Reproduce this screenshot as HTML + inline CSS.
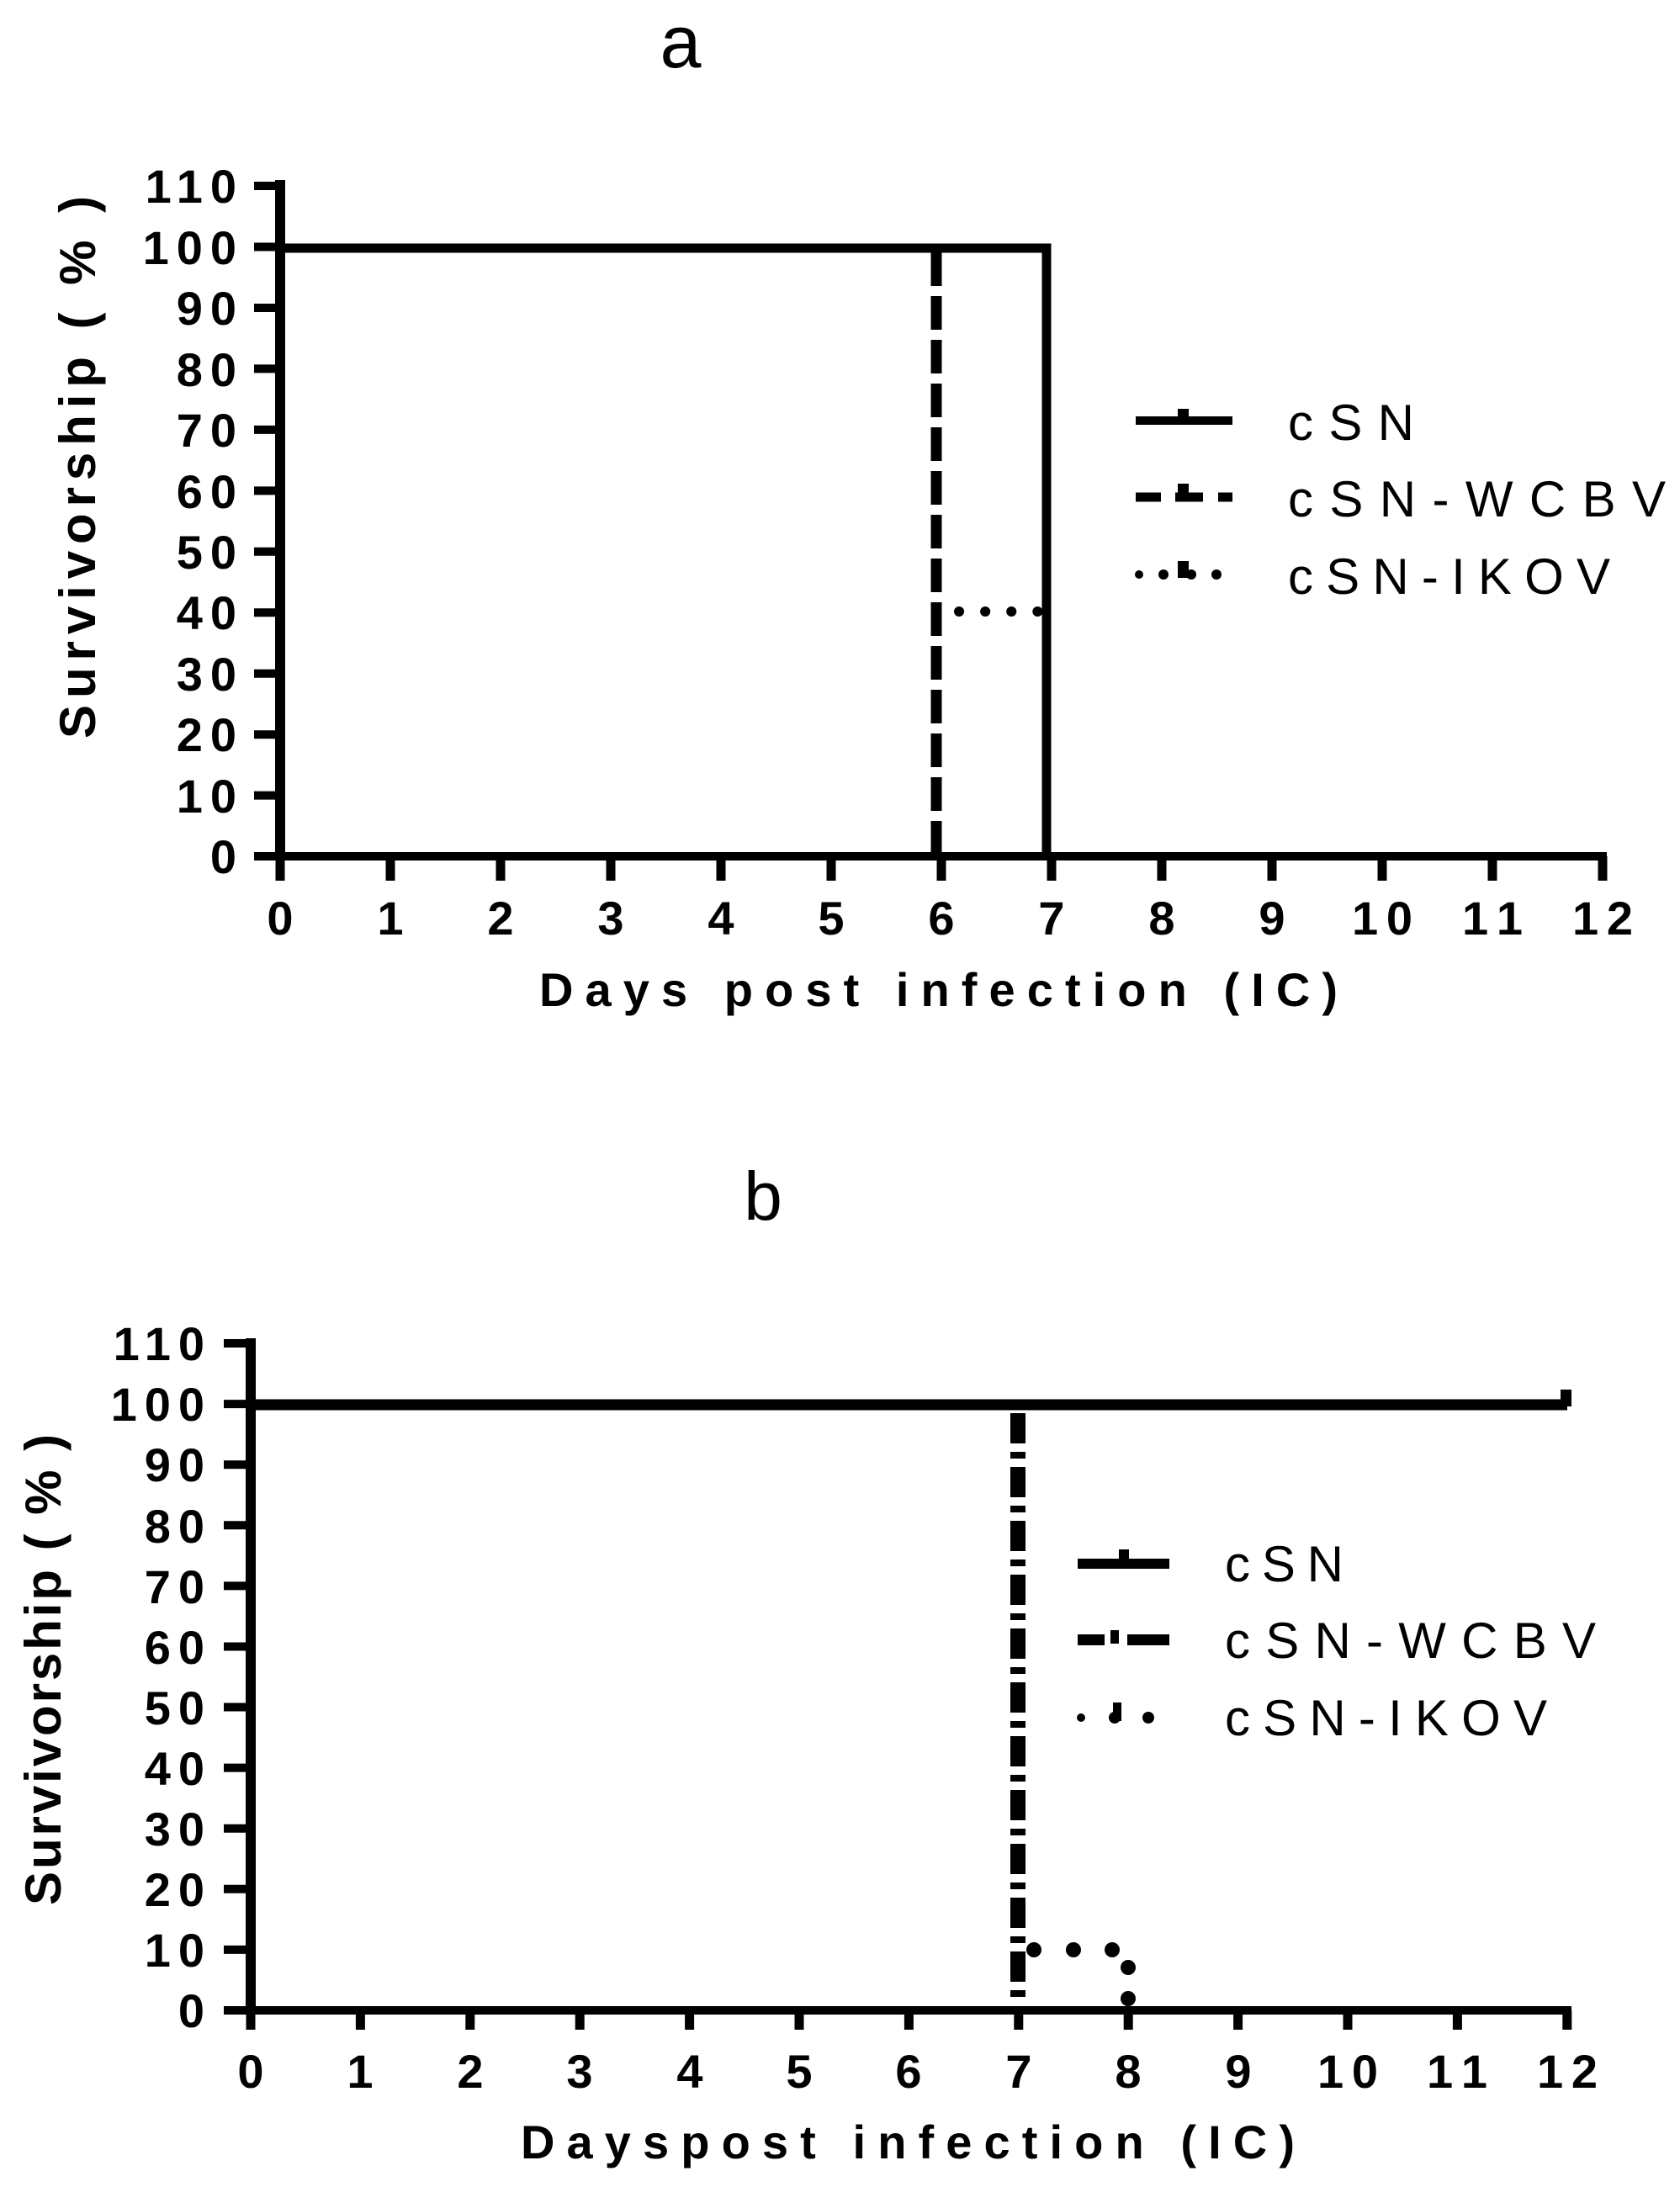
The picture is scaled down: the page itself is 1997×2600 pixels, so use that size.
<!DOCTYPE html>
<html><head><meta charset="utf-8"><style>
html,body{margin:0;padding:0;background:#fff;}
svg{display:block;}
text{font-family:"Liberation Sans",Arial,sans-serif;fill:#000;}
.tk{font-weight:bold;font-size:56px;}
</style></head><body>
<svg width="1997" height="2600" viewBox="0 0 1997 2600" xmlns="http://www.w3.org/2000/svg">
<rect width="1997" height="2600" fill="#fff"/>

<!-- ============ CHART A ============ -->
<text x="809" y="80" font-size="88" text-anchor="middle">a</text>
<g stroke="#000" fill="none">
  <line x1="333" y1="214" x2="333" y2="1023" stroke-width="12"/>
  <line x1="327" y1="1018" x2="1910" y2="1018" stroke-width="10"/>
</g>
<g stroke="#000" stroke-width="10">
  <line x1="302" y1="221" x2="333" y2="221"/>
  <line x1="302" y1="293.5" x2="333" y2="293.5"/>
  <line x1="302" y1="366" x2="333" y2="366"/>
  <line x1="302" y1="438.4" x2="333" y2="438.4"/>
  <line x1="302" y1="510.9" x2="333" y2="510.9"/>
  <line x1="302" y1="583.4" x2="333" y2="583.4"/>
  <line x1="302" y1="655.8" x2="333" y2="655.8"/>
  <line x1="302" y1="728.3" x2="333" y2="728.3"/>
  <line x1="302" y1="800.8" x2="333" y2="800.8"/>
  <line x1="302" y1="873.2" x2="333" y2="873.2"/>
  <line x1="302" y1="945.6" x2="333" y2="945.6"/>
  <line x1="302" y1="1018" x2="333" y2="1018"/>
</g>
<g class="tk" text-anchor="end" letter-spacing="9">
  <text x="290" y="241">110</text>
  <text x="290" y="314">100</text>
  <text x="290" y="386">90</text>
  <text x="290" y="459">80</text>
  <text x="290" y="531">70</text>
  <text x="290" y="604">60</text>
  <text x="290" y="676">50</text>
  <text x="290" y="748">40</text>
  <text x="290" y="821">30</text>
  <text x="290" y="893">20</text>
  <text x="290" y="966">10</text>
  <text x="290" y="1038">0</text>
</g>
<g stroke="#000" stroke-width="11">
  <line x1="333" y1="1018" x2="333" y2="1047"/>
  <line x1="464" y1="1018" x2="464" y2="1047"/>
  <line x1="595" y1="1018" x2="595" y2="1047"/>
  <line x1="726" y1="1018" x2="726" y2="1047"/>
  <line x1="857" y1="1018" x2="857" y2="1047"/>
  <line x1="988" y1="1018" x2="988" y2="1047"/>
  <line x1="1119" y1="1018" x2="1119" y2="1047"/>
  <line x1="1250" y1="1018" x2="1250" y2="1047"/>
  <line x1="1381" y1="1018" x2="1381" y2="1047"/>
  <line x1="1512" y1="1018" x2="1512" y2="1047"/>
  <line x1="1643" y1="1018" x2="1643" y2="1047"/>
  <line x1="1774" y1="1018" x2="1774" y2="1047"/>
  <line x1="1905" y1="1018" x2="1905" y2="1047"/>
</g>
<g class="tk" text-anchor="middle" font-size="58">
  <text x="333" y="1111">0</text>
  <text x="464" y="1111">1</text>
  <text x="595" y="1111">2</text>
  <text x="726" y="1111">3</text>
  <text x="857" y="1111">4</text>
  <text x="988" y="1111">5</text>
  <text x="1119" y="1111">6</text>
  <text x="1250" y="1111">7</text>
  <text x="1381" y="1111">8</text>
  <text x="1512" y="1111">9</text>
  <text x="1643" y="1111" textLength="72" lengthAdjust="spacing">10</text>
  <text x="1774" y="1111" textLength="72" lengthAdjust="spacing">11</text>
  <text x="1905" y="1111" textLength="72" lengthAdjust="spacing">12</text>
</g>
<text x="641" y="1196" font-size="56" font-weight="bold" textLength="949" lengthAdjust="spacing">Days post infection (IC)</text>
<text transform="translate(113,878) rotate(-90)" font-size="60" font-weight="bold" textLength="645" lengthAdjust="spacing">Survivorship ( % )</text>
<polyline points="333,295 1244,295 1244,1018" fill="none" stroke="#000" stroke-width="11"/>
<line x1="1113" y1="300" x2="1113" y2="1018" stroke="#000" stroke-width="13" stroke-dasharray="40 12"/>
<line x1="1140" y1="727" x2="1236" y2="727" stroke="#000" stroke-width="12" stroke-linecap="round" stroke-dasharray="0.1 31"/>
<line x1="1350" y1="500" x2="1465" y2="500" stroke="#000" stroke-width="10"/>
<rect x="1400" y="486" width="13" height="12" fill="#000"/>
<line x1="1350" y1="591" x2="1465" y2="591" stroke="#000" stroke-width="11" stroke-dasharray="30 17 33 18"/>
<rect x="1400" y="575" width="13" height="12" fill="#000"/>
<g fill="#000">
  <circle cx="1354" cy="683" r="5"/><circle cx="1383" cy="683" r="6"/>
  <rect x="1400" y="667" width="13" height="20"/><circle cx="1416" cy="683" r="6"/>
  <circle cx="1446" cy="683" r="6"/>
</g>
<g font-size="60">
  <text x="1531" y="523" textLength="150" lengthAdjust="spacing">cSN</text>
  <text x="1531" y="614" textLength="449" lengthAdjust="spacing">cSN-WCBV</text>
  <text x="1531" y="706" textLength="383" lengthAdjust="spacing">cSN-IKOV</text>
</g>

<!-- ============ CHART B ============ -->
<text x="907" y="1450" font-size="82" text-anchor="middle">b</text>
<g stroke="#000" fill="none">
  <line x1="298" y1="1591" x2="298" y2="2395" stroke-width="12"/>
  <line x1="292" y1="2390" x2="1868" y2="2390" stroke-width="10"/>
</g>
<g stroke="#000" stroke-width="10">
  <line x1="266" y1="1597" x2="298" y2="1597"/>
  <line x1="266" y1="1669.1" x2="298" y2="1669.1"/>
  <line x1="266" y1="1741.2" x2="298" y2="1741.2"/>
  <line x1="266" y1="1813.3" x2="298" y2="1813.3"/>
  <line x1="266" y1="1885.4" x2="298" y2="1885.4"/>
  <line x1="266" y1="1957.5" x2="298" y2="1957.5"/>
  <line x1="266" y1="2029.5" x2="298" y2="2029.5"/>
  <line x1="266" y1="2101.6" x2="298" y2="2101.6"/>
  <line x1="266" y1="2173.7" x2="298" y2="2173.7"/>
  <line x1="266" y1="2245.8" x2="298" y2="2245.8"/>
  <line x1="266" y1="2317.9" x2="298" y2="2317.9"/>
  <line x1="266" y1="2390" x2="298" y2="2390"/>
</g>
<g class="tk" text-anchor="end" letter-spacing="9">
  <text x="252" y="1617">110</text>
  <text x="252" y="1689">100</text>
  <text x="252" y="1761">90</text>
  <text x="252" y="1834">80</text>
  <text x="252" y="1906">70</text>
  <text x="252" y="1978">60</text>
  <text x="252" y="2050">50</text>
  <text x="252" y="2122">40</text>
  <text x="252" y="2194">30</text>
  <text x="252" y="2266">20</text>
  <text x="252" y="2338">10</text>
  <text x="252" y="2410">0</text>
</g>
<g stroke="#000" stroke-width="11">
  <line x1="298" y1="2390" x2="298" y2="2413"/>
  <line x1="428.4" y1="2390" x2="428.4" y2="2413"/>
  <line x1="558.8" y1="2390" x2="558.8" y2="2413"/>
  <line x1="689.2" y1="2390" x2="689.2" y2="2413"/>
  <line x1="819.6" y1="2390" x2="819.6" y2="2413"/>
  <line x1="950" y1="2390" x2="950" y2="2413"/>
  <line x1="1080.4" y1="2390" x2="1080.4" y2="2413"/>
  <line x1="1210.8" y1="2390" x2="1210.8" y2="2413"/>
  <line x1="1341.2" y1="2390" x2="1341.2" y2="2413"/>
  <line x1="1471.6" y1="2390" x2="1471.6" y2="2413"/>
  <line x1="1602" y1="2390" x2="1602" y2="2413"/>
  <line x1="1732.4" y1="2390" x2="1732.4" y2="2413"/>
  <line x1="1862.8" y1="2390" x2="1862.8" y2="2413"/>
</g>
<g class="tk" text-anchor="middle" font-size="58">
  <text x="298" y="2482">0</text>
  <text x="428" y="2482">1</text>
  <text x="559" y="2482">2</text>
  <text x="689" y="2482">3</text>
  <text x="820" y="2482">4</text>
  <text x="950" y="2482">5</text>
  <text x="1080" y="2482">6</text>
  <text x="1211" y="2482">7</text>
  <text x="1341" y="2482">8</text>
  <text x="1472" y="2482">9</text>
  <text x="1602" y="2482" textLength="72" lengthAdjust="spacing">10</text>
  <text x="1732" y="2482" textLength="72" lengthAdjust="spacing">11</text>
  <text x="1863" y="2482" textLength="72" lengthAdjust="spacing">12</text>
</g>
<text x="619" y="2566" font-size="56" font-weight="bold" textLength="920" lengthAdjust="spacing">Dayspost infection (IC)</text>
<text transform="translate(72,2265) rotate(-90)" font-size="60" font-weight="bold" textLength="560" lengthAdjust="spacing">Survivorship ( % )</text>
<line x1="298" y1="1670" x2="1863" y2="1670" stroke="#000" stroke-width="13"/>
<rect x="1855" y="1652" width="13" height="20" fill="#000"/>
<line x1="1210" y1="1680" x2="1210" y2="2374" stroke="#000" stroke-width="18" stroke-dasharray="36 10 8 10" stroke-linecap="butt"/>
<g fill="#000">
  <circle cx="1229" cy="2318" r="9"/><circle cx="1276" cy="2318" r="9"/><circle cx="1322" cy="2318" r="9"/>
  <circle cx="1341" cy="2339" r="9"/><circle cx="1341" cy="2376" r="9"/>
</g>
<line x1="1281" y1="1859" x2="1390" y2="1859" stroke="#000" stroke-width="12"/>
<rect x="1330" y="1842" width="12" height="14" fill="#000"/>
<g fill="#000">
  <rect x="1281" y="1943" width="32" height="13"/>
  <rect x="1320" y="1938" width="10" height="16"/>
  <rect x="1340" y="1943" width="50" height="13"/>
  <circle cx="1285" cy="2042" r="5"/>
  <rect x="1323" y="2024" width="10" height="22"/><circle cx="1325" cy="2042" r="7"/>
  <circle cx="1365" cy="2042" r="7"/>
</g>
<g font-size="60">
  <text x="1456" y="1880" textLength="141" lengthAdjust="spacing">cSN</text>
  <text x="1456" y="1971" textLength="441" lengthAdjust="spacing">cSN-WCBV</text>
  <text x="1456" y="2063" textLength="383" lengthAdjust="spacing">cSN-IKOV</text>
</g>
</svg>
</body></html>
